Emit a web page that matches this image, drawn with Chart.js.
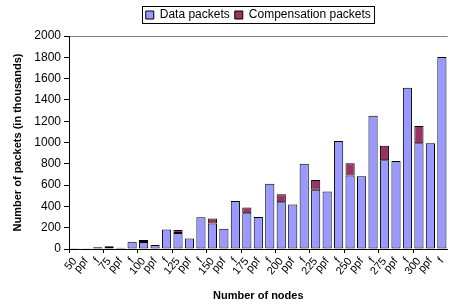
<!DOCTYPE html>
<html>
<head>
<meta charset="utf-8">
<script src="https://cdn.jsdelivr.net/npm/chart.js@4"></script>
<style>
html,body{margin:0;padding:0;background:#fff;}
canvas{display:block;}
</style>
</head>
<body>
<canvas id="c" width="454" height="307"></canvas>
<script>
const categories = ["50","ppf","f","75","ppf","f","100","ppf","f","125","ppf","f","150","ppf","f","175","ppf","f","200","ppf","f","225","ppf","f","250","ppf","f","275","ppf","f","300","ppf","f"];
const dataPackets = [3, 2, 16, 20, 12, 69, 65, 38, 184, 150, 98, 297, 240, 191, 451, 335, 300, 613, 438, 419, 801, 557, 541, 1014, 689, 682, 1252, 833, 826, 1515, 992, 992, 1803];
const compensationPackets = [2, 0, 0, 8, 0, 0, 19, 0, 0, 28, 0, 0, 47, 0, 0, 55, 0, 0, 75, 0, 0, 91, 0, 0, 115, 0, 0, 137, 0, 0, 163, 0, 0];
const yTicks = [0, 200, 400, 600, 800, 1000, 1200, 1400, 1600, 1800, 2000];

const FONT = "'Liberation Sans', Arial, sans-serif";

const legendTweak = {
  id: 'legendTweak',
  beforeLayout(chart) {
    const lg = chart.legend;
    if (lg && !lg._patched) {
      const orig = lg.fit;
      lg.fit = function () { orig.call(this); this.height += 5; };
      lg._patched = true;
    }
  },
  afterLayout(chart) {
    const lg = chart.legend;
    const ca = chart.chartArea;
    if (!lg) return;
    lg.left = ca.left; lg.right = ca.right; lg.width = ca.right - ca.left;
  },
  afterDraw(chart) {
    const lg = chart.legend;
    if (!lg || !lg.legendHitBoxes || !lg.legendHitBoxes.length) return;
    const hb = lg.legendHitBoxes;
    let x0 = Infinity, x1 = -Infinity, y0 = Infinity, y1 = -Infinity;
    hb.forEach(b => { x0 = Math.min(x0, b.left); x1 = Math.max(x1, b.left + b.width); y0 = Math.min(y0, b.top); y1 = Math.max(y1, b.top + b.height); });
    const ctx = chart.ctx;
    ctx.save();
    ctx.strokeStyle = '#000';
    ctx.lineWidth = 1;
    ctx.strokeRect(Math.round(x0 - 4) + 0.5, Math.round(y0 - 3) + 0.5, Math.round(x1 - x0 + 7), Math.round(y1 - y0 + 5));
    ctx.restore();
  }
};

new Chart(document.getElementById('c'), {
  type: 'bar',
  data: {
    labels: categories,
    datasets: [
      { label: 'Data packets', data: dataPackets, backgroundColor: '#9999FF', borderColor: '#000', borderWidth: 1, borderSkipped: false, barPercentage: 0.8, categoryPercentage: 1 },
      { label: 'Compensation packets', data: compensationPackets.map(v => (v === 0 ? null : v)), backgroundColor: '#993366', borderColor: '#000', borderWidth: 1, borderSkipped: false, barPercentage: 0.8, categoryPercentage: 1 }
    ]
  },
  options: {
    responsive: false,
    devicePixelRatio: 1,
    animation: false,
    layout: { padding: { top: 4, right: 0, left: 0, bottom: 0 } },
    plugins: {
      legend: {
        position: 'top',
        labels: {
          boxWidth: 8, boxHeight: 8, padding: 5, color: '#000',
          font: { family: FONT, size: 12 }
        }
      },
      tooltip: { enabled: false }
    },
    scales: {
      x: {
        stacked: true,
        grid: {
          offset: true,
          drawOnChartArea: false,
          tickLength: 4,
          tickColor: ctx => (ctx.index % 3 === 0 ? '#000' : 'rgba(0,0,0,0)'),
        },
        border: { color: '#000', width: 1 },
        ticks: {
          autoSkip: false, minRotation: 50, maxRotation: 50, padding: 2,
          color: '#000', font: { family: FONT, size: 11 }
        },
        title: { display: true, text: 'Number of nodes', color: '#000', font: { family: FONT, size: 11, weight: 'bold' }, padding: { top: 0, bottom: 4 } },
        afterFit: s => { s.height = 58; }
      },
      y: {
        stacked: true,
        min: 0, max: 2000,
        afterBuildTicks: s => { s.ticks = yTicks.map(v => ({ value: v })); },
        grid: {
          drawTicks: true, tickLength: 5, tickColor: '#000',
          color: ctx => (ctx.tick && ctx.tick.value === 2000 ? '#808080' : 'rgba(0,0,0,0)'),
          lineWidth: 1
        },
        border: { color: '#000', width: 1 },
        ticks: { color: '#000', padding: 3, font: { family: FONT, size: 12 }, callback: v => String(v) },
        title: { display: true, text: 'Number of packets (in thousands)', color: '#000', font: { family: FONT, size: 11, weight: 'bold' }, padding: { top: 11, bottom: 2 } },
        afterFit: s => { s.width = 69; }
      }
    }
  },
  plugins: [legendTweak]
});
</script>
</body>
</html>
